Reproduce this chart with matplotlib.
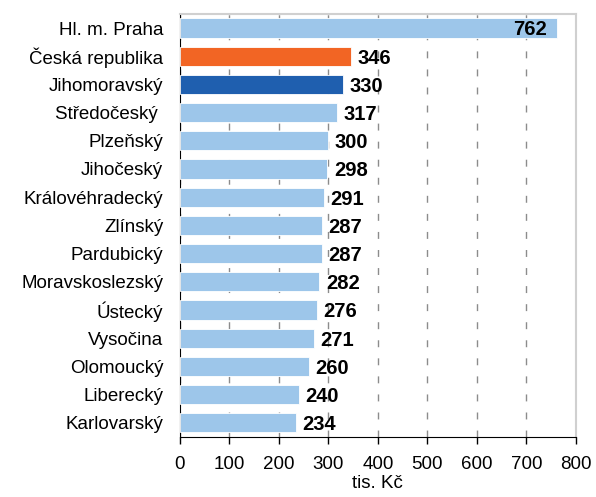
import matplotlib
matplotlib.use("Agg")
import matplotlib.pyplot as plt

categories = ["Hl. m. Praha", "Česká republika", "Jihomoravský", "Středočeský ", "Plzeňský",
              "Jihočeský", "Královéhradecký", "Zlínský", "Pardubický", "Moravskoslezský",
              "Ústecký", "Vysočina", "Olomoucký", "Liberecký", "Karlovarský"]
values = [762, 346, 330, 317, 300, 298, 291, 287, 287, 282, 276, 271, 260, 240, 234]
xticks = [0, 100, 200, 300, 400, 500, 600, 700, 800]
xlabel = "tis. Kč"

plt.rcParams['font.family'] = ['Liberation Sans', 'DejaVu Sans']

light = "#9DC6EA"
colors = [light] * len(values)
colors[1] = "#F26524"
colors[2] = "#1F5FAF"

fig = plt.figure(figsize=(5.96, 4.97), dpi=100)
ax = fig.add_axes([0.302, 0.121, 0.664, 0.851])

y = list(range(len(values)))
ax.barh(y, values, height=0.68, color=colors, edgecolor="white", linewidth=0.6, zorder=3)
ax.set_ylim(len(values) - 0.5, -0.5)
ax.set_xlim(0, 800)
ax.set_yticks(y)
ax.set_yticklabels(categories, fontsize=13.5)
ax.set_xticks(xticks)
ax.set_xticklabels([str(t) for t in xticks], fontsize=13.5)
ax.set_xlabel(xlabel, fontsize=13.5, labelpad=1)

for i, v in enumerate(values):
    if v > 700:
        ax.text(v - 20, i + 0.05, str(v), ha="right", va="center", fontsize=14.5, fontweight="bold", zorder=4)
    else:
        ax.text(v + 13, i + 0.07, str(v), ha="left", va="center", fontsize=14.5, fontweight="bold", zorder=4)

ax.xaxis.grid(True, linestyle=(0, (5, 8)), color="#8C8C8C", linewidth=1.0, zorder=0)
ax.tick_params(axis="y", length=0, pad=12)
ax.tick_params(axis="x", direction="out", length=5, width=1, pad=9, color="black")
ax.spines["left"].set_color("black")
ax.spines["bottom"].set_color("black")
ax.spines["right"].set_color("#D0D0D0")
ax.spines["top"].set_color("#D0D0D0")
ax.spines["right"].set_linewidth(1.5)
ax.spines["top"].set_linewidth(1.5)

fig.savefig("out.png", dpi=100)
